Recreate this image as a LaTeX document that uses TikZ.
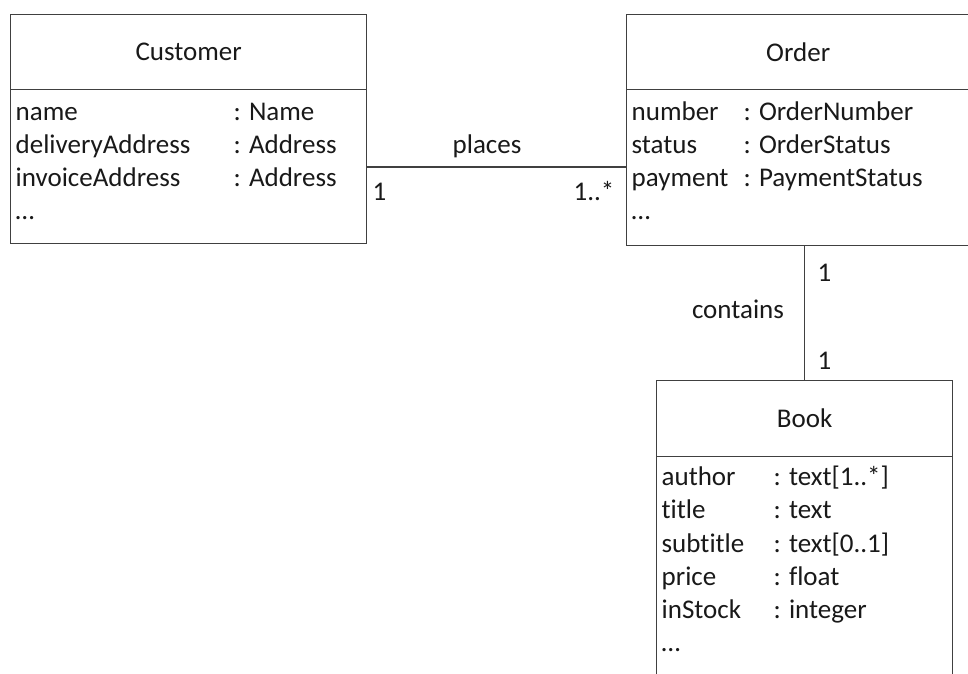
\documentclass[tikz,border=0pt]{standalone}
\usepackage{fontspec}
\setmainfont[Ligatures=NoCommon]{Carlito}
\begin{document}
\begin{tikzpicture}[x=1pt,y=-1pt,
  line width=1.3pt,
  umlbox/.style={draw=black!75, rectangle, inner sep=0pt, anchor=north west},
  attr/.style={anchor=base west, inner sep=0pt, font=\fontsize{27}{33}\selectfont, text=black!90},
  lbl/.style={inner sep=0pt, font=\fontsize{27}{33}\selectfont, text=black!90},
  title/.style={font=\fontsize{27}{33}\selectfont, text=black!90},
  conn/.style={draw=black!75, line width=1.3pt}]
\useasboundingbox (0,0) rectangle (968,673);
\clip (0,0) rectangle (968,673);
% Customer
\node[umlbox, minimum width=356pt, minimum height=75pt, title] (custH) at (10,14) {Customer};
\node[umlbox, minimum width=356pt, minimum height=154pt] (custB) at (10,89) {};
\node[attr] (c1n) at (15,120) {name};
\node[attr] (c1t) at (233,120) {: Name};
\node[attr] (c2n) at (15,153) {deliveryAddress};
\node[attr] (c2t) at (233,153) {: Address};
\node[attr] (c3n) at (15,186) {invoiceAddress};
\node[attr] (c3t) at (233,186) {: Address};
\node[attr] (c4n) at (15,219) {\dots};
% Order
\node[umlbox, minimum width=343pt, minimum height=75pt, title] (ordH) at (626,14) {Order};
\node[umlbox, minimum width=343pt, minimum height=156pt] (ordB) at (626,89) {};
\node[attr] (o1n) at (631,120) {number};
\node[attr] (o1t) at (743,120) {: OrderNumber};
\node[attr] (o2n) at (631,153) {status};
\node[attr] (o2t) at (743,153) {: OrderStatus};
\node[attr] (o3n) at (631,186) {payment};
\node[attr] (o3t) at (743,186) {: PaymentStatus};
\node[attr] (o4n) at (631,219) {\dots};
% Book
\node[umlbox, minimum width=296pt, minimum height=76pt, title] (bookH) at (656,380) {Book};
\node[umlbox, minimum width=296pt, minimum height=260pt] (bookB) at (656,456) {};
\node[attr] (b1n) at (661,485) {author};
\node[attr] (b1t) at (773,485) {: text[1..*]};
\node[attr] (b2n) at (661,518) {title};
\node[attr] (b2t) at (773,518) {: text};
\node[attr] (b3n) at (661,552) {subtitle};
\node[attr] (b3t) at (773,552) {: text[0..1]};
\node[attr] (b4n) at (661,585) {price};
\node[attr] (b4t) at (773,585) {: float};
\node[attr] (b5n) at (661,618) {inStock};
\node[attr] (b5t) at (773,618) {: integer};
\node[attr] (b6n) at (661,651) {\dots};
% connectors
\draw[conn] (custB.east |- 0,167) -- (ordB.west |- 0,167);
\draw[conn] (bookH.north) -- (bookH.north |- ordB.south);
\node[lbl, anchor=base] (places) at (487,153) {places};
\node[lbl, anchor=base west] (m1) at (372,200) {1};
\node[lbl, anchor=base east] (m2) at (615,200) {1..*};
\node[lbl, anchor=base west] (m3) at (817,281) {1};
\node[lbl, anchor=base] (contains) at (738,318) {contains};
\node[lbl, anchor=base west] (m4) at (817,369) {1};
\end{tikzpicture}
\end{document}
